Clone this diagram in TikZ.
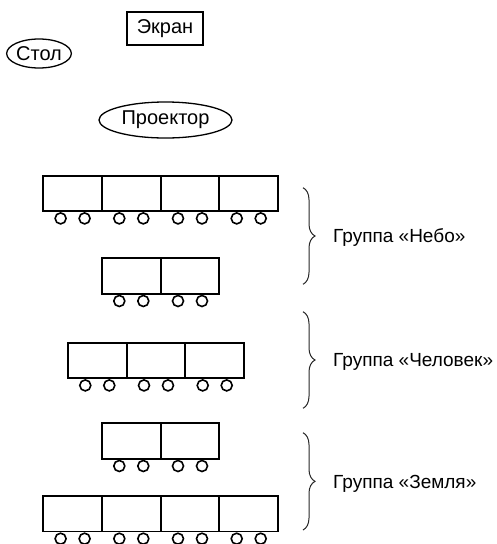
\documentclass[tikz,border=0pt]{standalone}
\usepackage{fontspec}
\setmainfont{Liberation Sans}
\usetikzlibrary{shapes.geometric,decorations.pathreplacing}
\begin{document}
\begin{tikzpicture}[x=1pt,y=-1pt,
  lbl/.style={font=\fontsize{19}{22}\selectfont, inner sep=0pt},
  toplbl/.style={font=\fontsize{20}{23}\selectfont, inner sep=0pt},
  frame/.style={draw, line width=1.3pt, inner sep=0pt},
  car/.style={draw, line width=1.8pt, minimum width=58.7pt, minimum height=35.5pt, inner sep=0pt},
  wheel/.style={draw, line width=1.6pt},
  grpbrace/.style={draw=black!85, line width=1pt, decorate, decoration={brace, amplitude=12pt}}
]
\useasboundingbox (0,0) rectangle (497,544);
\node[frame, toplbl, rectangle, minimum width=76pt, minimum height=33pt] (screen) at (165,28.5) {Экран};
\node[frame, toplbl, ellipse, minimum width=64pt, minimum height=29pt] (table) at (39,53.5) {Стол};
\node[frame, toplbl, ellipse, minimum width=133pt, minimum height=36pt] (proj) at (165.5,120) {Проектор};

\foreach \n/\x/\y in {r1a/72.6/193.45, r1b/131.3/193.45, r1c/190.0/193.45, r1d/248.7/193.45,
                      r2a/131.3/276.05, r2b/190.0/276.05,
                      r3a/97.3/360.45, r3b/156.0/360.45, r3c/214.7/360.45,
                      r4a/131.3/441.05, r4b/190.0/441.05,
                      r5a/72.6/513.75, r5b/131.3/513.75, r5c/190.0/513.75, r5d/248.7/513.75}{
  \node[car] (\n) at (\x,\y) {};
  \draw[wheel] ([xshift=-12pt,yshift=-6.3pt]\n.south) circle[radius=5.5pt];
  \draw[wheel] ([xshift=12pt,yshift=-6.3pt]\n.south) circle[radius=5.5pt];
}

\coordinate (b1t) at (303,187.7); \coordinate (b1b) at (303,284.3);
\coordinate (b2t) at (303,311.7); \coordinate (b2b) at (303,408.3);
\coordinate (b3t) at (303,432.7); \coordinate (b3b) at (303,530);
\draw[grpbrace] (b1t) -- (b1b);
\draw[grpbrace] (b2t) -- (b2b);
\draw[grpbrace] (b3t) -- (b3b);
\node[lbl, anchor=base west] (g1) at (333,242.5) {Группа «Небо»};
\node[lbl, anchor=base west] (g2) at (333,366.5) {Группа «Человек»};
\node[lbl, anchor=base west] (g3) at (333,488) {Группа «Земля»};
\end{tikzpicture}
\end{document}
